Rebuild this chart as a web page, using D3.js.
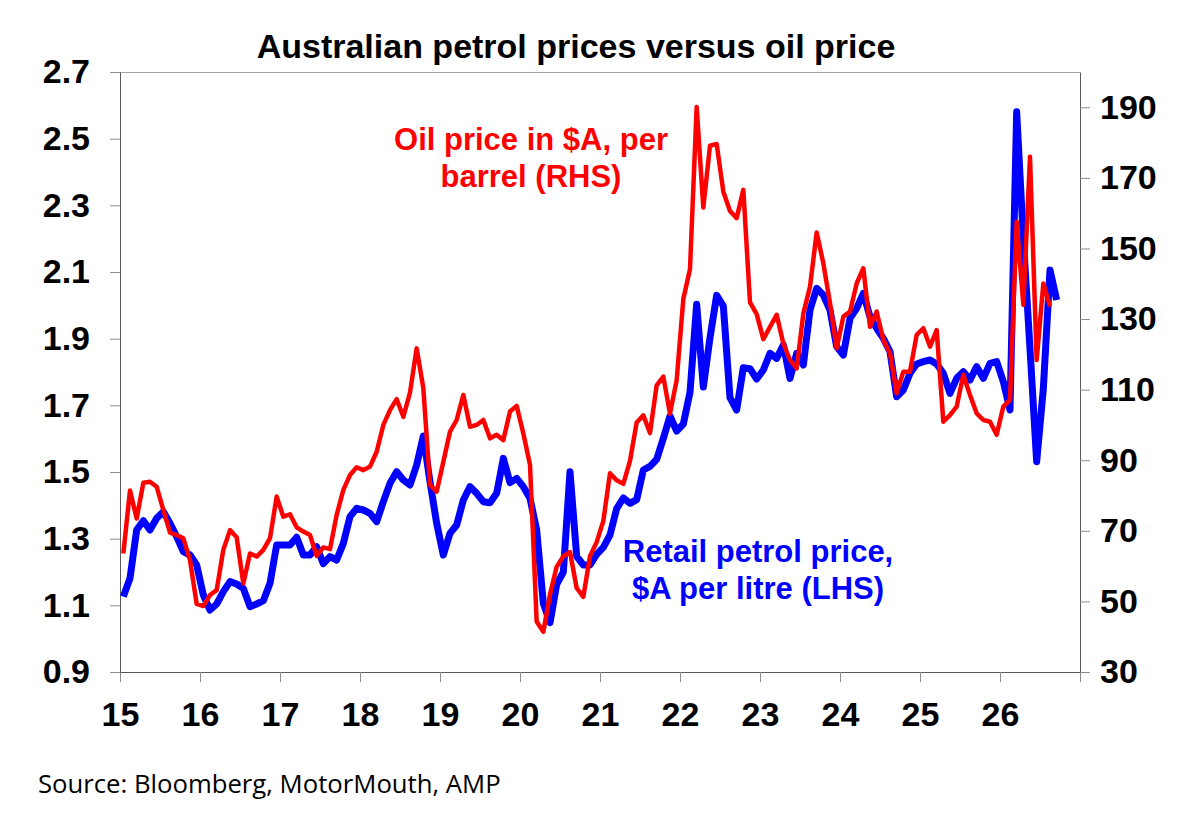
<!DOCTYPE html>
<html lang="en">

<head>
    <meta charset="UTF-8">
    <title>Australian petrol prices versus oil price</title>
    <script src="https://cdn.jsdelivr.net/npm/d3@7"></script>
    <style>
        body { margin: 0; background: #fff; }
        svg { display: block; font-family: "Liberation Sans", Arial, sans-serif; }
    </style>
</head>

<body>
    <svg id="chart" width="1199" height="818"></svg>

    <script>
        // monthly data, first point Jan 2015
        const startYear = 2015
        const yearTicks = [2015, 2016, 2017, 2018, 2019, 2020, 2021, 2022, 2023, 2024, 2025, 2026, 2027]
        const leftTicks = [0.9, 1.1, 1.3, 1.5, 1.7, 1.9, 2.1, 2.3, 2.5, 2.7]
        const rightTicks = [30, 50, 70, 90, 110, 130, 150, 170, 190]

        // retail petrol price, $A per litre (LHS)
        const petrol = [
            1.126, 1.181, 1.326, 1.354, 1.326, 1.361, 1.381, 1.346, 1.306, 1.261, 1.251, 1.221,
            1.131, 1.086, 1.104, 1.141, 1.171, 1.164, 1.151, 1.096, 1.104, 1.114, 1.166, 1.281,
            1.281, 1.281, 1.304, 1.251, 1.251, 1.276, 1.225, 1.246, 1.236, 1.286, 1.366, 1.391,
            1.386, 1.376, 1.351, 1.411, 1.466, 1.501, 1.476, 1.461, 1.521, 1.608, 1.471, 1.346,
            1.251, 1.316, 1.341, 1.416, 1.456, 1.436, 1.411, 1.408, 1.436, 1.541, 1.468, 1.481,
            1.456, 1.421, 1.326, 1.106, 1.048, 1.163, 1.200, 1.501, 1.247, 1.221, 1.221, 1.253,
            1.274, 1.311, 1.390, 1.422, 1.406, 1.417, 1.506, 1.517, 1.538, 1.601, 1.668, 1.623,
            1.644, 1.739, 2.003, 1.755, 1.903, 2.030, 1.998, 1.723, 1.686, 1.813, 1.810, 1.779,
            1.806, 1.856, 1.841, 1.881, 1.781, 1.856, 1.821, 1.986, 2.051, 2.031, 1.986, 1.876,
            1.851, 1.961, 1.991, 2.036, 1.966, 1.931, 1.901, 1.861, 1.726, 1.746, 1.796, 1.824,
            1.831, 1.836, 1.824, 1.796, 1.736, 1.781, 1.801, 1.776, 1.816, 1.781, 1.826, 1.831,
            1.771, 1.686, 2.581, 2.200, 1.870, 1.531, 1.750, 2.106, 2.016
        ]

        // oil price in $A per barrel (RHS)
        const oil = [
            63.6, 81.4, 73.5, 83.6, 83.9, 82.5, 75.9, 69.5, 68.8, 67.9, 61.7, 49.3,
            48.7, 51.8, 53.2, 64.6, 70.2, 68.2, 55.1, 63.6, 62.7, 64.6, 67.9, 79.7,
            74.0, 74.7, 71.0, 69.8, 68.8, 62.9, 65.3, 64.8, 74.5, 81.6, 85.8, 88.0,
            87.2, 88.2, 92.4, 100.0, 104.2, 107.3, 102.3, 109.2, 121.7, 110.4, 83.0, 81.1,
            89.6, 98.1, 101.4, 108.5, 99.5, 100.0, 101.4, 96.2, 97.2, 95.7, 103.8, 105.4,
            97.6, 88.7, 44.3, 41.4, 52.0, 59.8, 62.8, 64.0, 53.8, 51.3, 62.8, 66.8,
            72.8, 86.3, 84.3, 83.3, 89.8, 100.7, 102.7, 97.7, 111.2, 113.7, 103.2, 112.7,
            135.7, 144.2, 190.1, 161.6, 179.1, 179.6, 166.1, 160.6, 158.6, 166.6, 134.7, 131.4,
            124.3, 127.8, 131.2, 123.1, 118.4, 116.0, 131.6, 139.2, 154.5, 145.8, 134.5, 121.7,
            130.7, 132.1, 140.1, 144.4, 127.8, 132.1, 124.1, 120.3, 109.0, 115.1, 115.1, 125.5,
            127.4, 122.2, 126.9, 100.9, 102.8, 105.2, 114.2, 108.5, 103.3, 101.4, 100.9, 97.2,
            105.2, 107.1, 157.6, 134.0, 176.0, 118.4, 140.1, 133.5
        ]

        // mid-month position of each observation, in decimal years
        const months = petrol.map((d, i) => startYear + (i + 0.5) / 12)

        const svg = d3.select('#chart')
        const plot = { left: 120, right: 1080, top: 72, bottom: 672 }

        const x = d3.scaleLinear().domain([2015, 2027]).range([plot.left, plot.right])
        const yL = d3.scaleLinear().domain([0.9, 2.7]).range([plot.bottom, plot.top])
        const yR = d3.scaleLinear().domain([30, 200]).range([plot.bottom, plot.top])

        const styleAxis = g => {
            g.attr('font-family', null).attr('font-size', null)
            g.select('.domain').attr('stroke', '#595959')
            g.selectAll('.tick line').attr('stroke', '#8c8c8c')
            g.selectAll('.tick text')
                .attr('fill', '#000')
                .style('font-size', '34px')
                .style('font-weight', 'bold')
        }

        // top border of plot area
        svg.append('line')
            .attr('x1', plot.left).attr('x2', plot.right)
            .attr('y1', plot.top + 0.5).attr('y2', plot.top + 0.5)
            .attr('stroke', '#a6a6a6')

        svg.append('g')
            .attr('transform', `translate(0,${plot.bottom})`)
            .call(d3.axisBottom(x)
                .tickValues(yearTicks)
                .tickFormat(d => d < 2027 ? String(d).slice(2) : '')
                .tickSize(10).tickSizeOuter(0).tickPadding(20))
            .call(styleAxis)

        svg.append('g')
            .attr('transform', `translate(${plot.left},0)`)
            .call(d3.axisLeft(yL)
                .tickValues(leftTicks)
                .tickFormat(d3.format('.1f'))
                .tickSize(10).tickSizeOuter(0).tickPadding(20))
            .call(styleAxis)

        svg.append('g')
            .attr('transform', `translate(${plot.right},0)`)
            .call(d3.axisRight(yR)
                .tickValues(rightTicks)
                .tickSize(10).tickSizeOuter(0).tickPadding(10))
            .call(styleAxis)

        // petrol first, oil drawn on top
        svg.append('path')
            .datum(petrol)
            .attr('fill', 'none')
            .attr('stroke', '#0000ff')
            .attr('stroke-width', 7)
            .attr('stroke-linejoin', 'round')
            .attr('d', d3.line().x((d, i) => x(months[i])).y(d => yL(d)))

        svg.append('path')
            .datum(oil)
            .attr('fill', 'none')
            .attr('stroke', '#ff0000')
            .attr('stroke-width', 4.5)
            .attr('stroke-linejoin', 'round')
            .attr('d', d3.line().x((d, i) => x(months[i])).y(d => yR(d)))

        svg.append('text')
            .attr('x', 576).attr('y', 58)
            .attr('text-anchor', 'middle')
            .style('font-size', '34px').style('font-weight', 'bold')
            .text('Australian petrol prices versus oil price')

        const label = (lines, cx, y0, color) => {
            lines.forEach((t, i) => {
                svg.append('text')
                    .attr('x', cx).attr('y', y0 + i * 37)
                    .attr('text-anchor', 'middle')
                    .attr('fill', color)
                    .style('font-size', '31px').style('font-weight', 'bold')
                    .text(t)
            })
        }
        label(['Oil price in $A, per', 'barrel (RHS)'], 531, 150, '#ff0000')
        label(['Retail petrol price,', '$A per litre (LHS)'], 758, 562, '#0000ff')

        svg.append('text')
            .attr('x', 38).attr('y', 793)
            .style('font-family', '"Open Sans", sans-serif')
            .style('font-size', '25.7px')
            .text('Source: Bloomberg, MotorMouth, AMP')
    </script>
</body>

</html>
